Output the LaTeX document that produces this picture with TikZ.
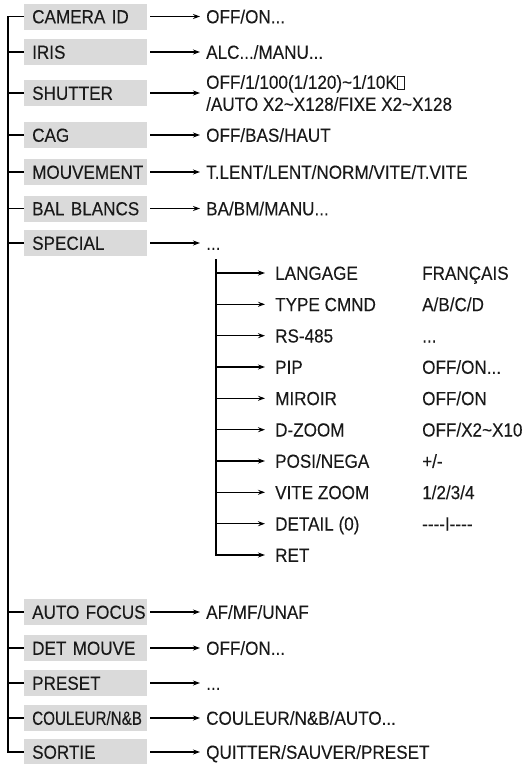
\documentclass[tikz,border=0pt]{standalone}
\usepackage{fontspec}
\setmainfont{Liberation Sans}[FakeStretch=0.9,FakeBold=0.12]
\newfontfamily\narrowfont{Liberation Sans}[FakeStretch=0.8,FakeBold=0.12]
\usetikzlibrary{arrows.meta}
\definecolor{boxgray}{RGB}{218,218,218}
\definecolor{ink}{RGB}{25,25,25}
\newcommand\tofubox{{\setlength\fboxsep{0pt}\setlength\fboxrule{0.9pt}\fbox{\rule{0pt}{11.5pt}\hspace{6pt}}}}
\begin{document}
\begin{tikzpicture}[x=1pt,y=-1pt,
  every node/.style={font=\fontsize{19}{22}\selectfont, text=ink, inner sep=0pt, text height=13.6pt, text depth=0pt},
  menubox/.style={fill=boxgray, anchor=west, minimum width=123pt, minimum height=26pt, text width=121pt, align=left, inner xsep=1pt, execute at begin node={\hspace*{7pt}}},
  val/.style={anchor=west},
  conn/.style={line width=1.1pt, draw=black},
  arr/.style={conn, -{Stealth[length=7pt,width=5pt]}},
  marr/.style={arr, shorten <=3pt, shorten >=6pt},
  sarr/.style={arr, shorten >=10pt},
]
\useasboundingbox (0,0) rectangle (523,764);
\coordinate (trunk) at (8,0);
\coordinate (subtop) at (216,259);

% main menu boxes
\node[menubox] (cam)  at (24,16.5) {CAMERA ID};
\node[menubox] (iris) at (24,52)   {IRIS};
\node[menubox] (shut) at (24,93)   {SHUTTER};
\node[menubox] (cag)  at (24,135)  {CAG};
\node[menubox] (mouv) at (24,172)  {MOUVEMENT};
\node[menubox] (bal)  at (24,208.5){BAL BLANCS};
\node[menubox] (spec) at (24,243)  {SPECIAL};
\node[menubox] (af)   at (24,612)  {AUTO FOCUS};
\node[menubox] (det)  at (24,648)  {DET MOUVE};
\node[menubox] (pre)  at (24,683)  {PRESET};
\node[menubox] (coul) at (24,718)  {\narrowfont COULEUR/N\&B};
\node[menubox] (sort) at (24,752)  {SORTIE};

% values
\node[val] (camv)  at (206,16.5) {OFF/ON...};
\node[val] (irisv) at (206,52)   {ALC.../MANU...};
\node[val, align=left, text height=, text depth=] (shutv) at (206,93)
  {OFF/1/100(1/120)\textasciitilde1/10K\tofubox\\/AUTO X2\textasciitilde X128/FIXE X2\textasciitilde X128};
\node[val] (cagv)  at (206,135)  {OFF/BAS/HAUT};
\node[val] (mouvv) at (206,172)  {T.LENT/LENT/NORM/VITE/T.VITE};
\node[val] (balv)  at (206,208.5){BA/BM/MANU...};
\node[val] (specv) at (206,243)  {...};
\node[val] (afv)   at (206,612)  {AF/MF/UNAF};
\node[val] (detv)  at (206,648)  {OFF/ON...};
\node[val] (prev)  at (206,683)  {...};
\node[val] (coulv) at (206,718)  {COULEUR/N\&B/AUTO...};
\node[val] (sortv) at (206,752)  {QUITTER/SAUVER/PRESET};

% special sub-menu
\node[val] (lang) at (275,273)   {LANGAGE};
\node[val] (typ)  at (275,304.3) {TYPE CMND};
\node[val] (rs)   at (275,335.7) {RS-485};
\node[val] (pip)  at (275,367)   {PIP};
\node[val] (mir)  at (275,398.3) {MIROIR};
\node[val] (dz)   at (275,429.7) {D-ZOOM};
\node[val] (pn)   at (275,461)   {POSI/NEGA};
\node[val] (vz)   at (275,492.3) {VITE ZOOM};
\node[val] (dt)   at (275,523.7) {DETAIL (0)};
\node[val] (ret)  at (275,555)   {RET};

\node[val] (langv) at (422,273)   {FRANÇAIS};
\node[val] (typv)  at (422,304.3) {A/B/C/D};
\node[val] (rsv)   at (422,335.7) {...};
\node[val] (pipv)  at (422,367)   {OFF/ON...};
\node[val] (mirv)  at (422,398.3) {OFF/ON};
\node[val] (dzv)   at (422,429.7) {OFF/X2\textasciitilde X10};
\node[val] (pnv)   at (422,461)   {+/-};
\node[val] (vzv)   at (422,492.3) {1/2/3/4};
\node[val] (dtv)   at (422,523.7) {-{}-{}-{}-I-{}-{}-{}-};

% trunk
\draw[conn] (cam.west) -- (cam.west -| trunk) -- (sort.west -| trunk) -- (sort.west);
\foreach \n in {iris,shut,cag,mouv,bal,spec,af,det,pre,coul}
  \draw[conn] (\n.west -| trunk) -- (\n.west);

% main arrows
\foreach \n in {cam,iris,shut,cag,mouv,bal,spec,af,det,pre,coul,sort}
  \draw[marr] (\n.east) -- (\n v.west);

% sub tree
\draw[sarr] (subtop) |- (ret.west);
\foreach \n in {lang,typ,rs,pip,mir,dz,pn,vz,dt}
  \draw[sarr] (\n.west -| subtop) -- (\n.west);
\end{tikzpicture}
\end{document}
